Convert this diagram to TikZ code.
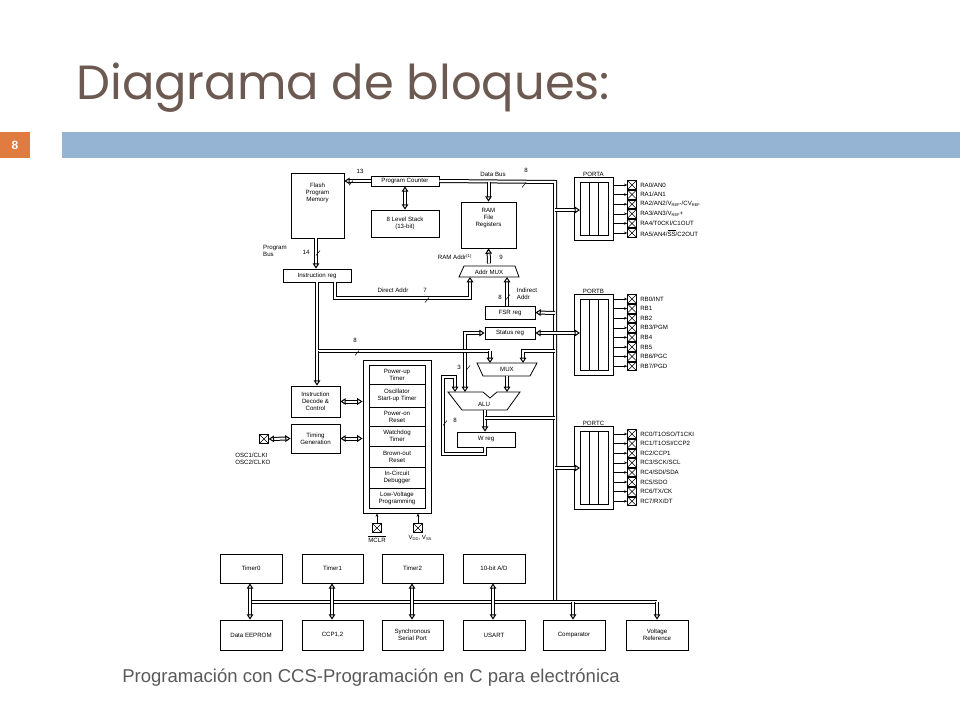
\documentclass[tikz,border=0pt]{standalone}
\usepackage{fontspec}
\setmainfont{Liberation Sans}
\newfontfamily\titlefont{Poppins}
\usetikzlibrary{arrows.meta}
\definecolor{titlec}{RGB}{108,90,82}
\definecolor{barblue}{RGB}{149,179,210}
\definecolor{barorange}{RGB}{224,124,64}
\newcommand\blk[6]{\node[box, minimum width={(#4-#2)*0.75pt}, minimum height={(#5-#3)*0.75pt}] (#1) at ({(#2+#4)/2},{(#3+#5)/2}) {#6};}
\newcommand\sbs[1]{\raisebox{-0.3ex}{\fontsize{3}{3}\selectfont #1}}
\begin{document}
\begin{tikzpicture}[x=0.75pt,y=-0.75pt,
 box/.style={draw,line width=0.6pt,inner sep=0pt,align=center,font=\fontsize{4.6}{5.2}\selectfont},
 lbl/.style={inner sep=0pt,font=\fontsize{4.6}{5.2}\selectfont,align=center},
 bus/.style={double,double distance=1.5pt,line width=0.75pt},
 busa/.style={bus,-{Triangle[open,length=4pt,width=5pt]}},
 busaa/.style={bus,{Triangle[open,length=4pt,width=5pt]}-{Triangle[open,length=4pt,width=5pt]}},
 pin/.style={line width=0.4pt,-{Stealth[length=2.5pt,width=2pt]}},
 xb/.style={draw,line width=0.5pt,minimum size=6.5pt,inner sep=0pt,path picture={\draw[line width=0.4pt] (path picture bounding box.south west)--(path picture bounding box.north east) (path picture bounding box.north west)--(path picture bounding box.south east);}},
 trap/.style={draw,line width=0.6pt,fill=white},
]
\useasboundingbox (0,0) rectangle (960,720);
% header
\node[anchor=base west,inner sep=0pt,font=\titlefont\fontsize{36}{36}\selectfont,text=titlec] (title) at (76,100) {Diagrama de bloques:};
\fill[barorange] (0,132) rectangle (30,158);
\node[font=\bfseries\fontsize{9}{9}\selectfont,text=white] (pnum) at (15,145) {8};
\fill[barblue] (62,132) rectangle (960,158);
\node[anchor=base west,inner sep=0pt,font=\fontsize{13.9}{14}\selectfont,text=black!65] (foot) at (122,682) {Programación con CCS-Programación en C para electrónica};

% main blocks
\blk{flash}{291}{173}{344}{238}{Flash\\Program\\Memory\\[14pt]}
\blk{pc}{371}{176}{439}{186}{Program Counter}
\blk{stack}{371}{210}{439}{237}{8 Level Stack\\(13-bit)}
\blk{ram}{461}{202}{516}{248}{RAM\\File\\Registers\\[6pt]}
\blk{ir}{283}{269}{351}{282}{Instruction reg}
\blk{fsr}{485}{306}{535}{319}{FSR reg}
\blk{status}{485}{327}{535}{339}{Status reg}
\blk{wreg}{457}{432}{515}{447}{W reg}
\blk{idc}{291}{386}{340}{417}{Instruction\\Decode \&\\Control}
\blk{tg}{291}{424}{340}{453}{Timing\\Generation}

% Addr MUX
\draw[trap] (459,277) -- (464,266) -- (515,266) -- (519,277) -- cycle;
\node[lbl] (amux) at (489,272) {Addr MUX};
% MUX
\draw[trap] (477,363) -- (537,363) -- (530,376) -- (483,376) -- cycle;
\node[lbl] (mux) at (507,369) {MUX};
% ALU
\draw[trap] (448,392) -- (483,392) -- (490,398) -- (497,392) -- (520,392) -- (507,410) -- (462,410) -- cycle;
\node[lbl] (alu) at (484,404) {ALU};
\coordinate (aluL) at (455,392);
\coordinate (aluR) at (507,392);
\coordinate (aluO) at (485,410);

% power block
\node[draw,line width=0.7pt,minimum width={68*0.75pt},minimum height={153*0.75pt},inner sep=0pt] (pwr) at (397,436.5) {};
\blk{p1}{369}{365}{425}{384}{Power-up\\Timer}
\blk{p2}{369}{384}{425}{407}{Oscillator\\Start-up Timer}
\blk{p3}{369}{407}{425}{426}{Power-on\\Reset}
\blk{p4}{369}{426}{425}{446}{Watchdog\\Timer}
\blk{p5}{369}{446}{425}{467}{Brown-out\\Reset}
\blk{p6}{369}{467}{425}{488}{In-Circuit\\Debugger}
\blk{p7}{369}{488}{425}{508}{Low-Voltage\\Programming}

% OSC / MCLR / VDD
\node[xb] (osc) at (264,439) {};
\node[lbl,anchor=north west,align=left] (osclbl) at (235,453) {OSC1/CLKI\\OSC2/CLKO};
\node[xb] (mclr) at (377,528) {};
\node[lbl,anchor=north] (mclrlbl) at (377,535) {$\overline{\mbox{MCLR}}$};
\node[xb] (vdd) at (418,528) {};
\node[lbl,anchor=north] (vddlbl) at (420,535) {V\sbs{DD}, V\sbs{SS}};
\draw[pin] (mclr.north) -- (mclr.north |- pwr.south);
\draw[pin] (vdd.north) -- (vdd.north |- pwr.south);

% buses
\coordinate (bt) at (555,182);
\coordinate (bb) at (555,602);
\coordinate (hl) at (250,602);
\coordinate (hr) at (657,602);
\draw[bus] (pc.east) -- (bt) -- (bb);
\draw[bus] (hl) -- (hr);
\draw[busa] (pc.west) -- (flash.east |- pc.west);
\draw[busaa] (pc.south) -- (stack.north);
\draw[busa] (ram.north |- bt) -- (ram.north);
\draw[busa] (flash.south -| 316,0) -- (ir.north -| 316,0);
\draw[busa] (amux.north) ++(0,-6) -- (ram.south);
\draw[busa] (ir.south -| 335,0) -- (335,298) -- (470,298) -- (470,277);
\draw[busa] (fsr.north -| 507,0) -- (507,277);
\draw[busa] (555,313) -- (fsr.east);
\draw[busa] (555,333) -- (status.east);
\draw[busaa] (465,392) -- (465,333) -- (status.west);
\draw[bus] (ir.south -| 317,0) -- (317,351) -- (490,351);
\draw[busa] (490,351) -- (490,363);
\draw[busa] (317,351) -- (idc.north -| 317,0);
\draw[busa] (555,351) -- (523,351) -- (523,363);
\draw[busa] (507,376) -- (aluR);
\draw[busa] (wreg.south -| 485,0) -- (485,454) -- (443,454) -- (443,377) -- (455,377) -- (aluL);
\draw[busa] (aluO) -- (wreg.north -| 485,0);
\draw[bus] (485,418) -- (555,418);
\draw[busaa] (idc.east) -- (idc.east -| pwr.west);
\draw[busaa] (tg.east) -- (tg.east -| pwr.west);
\draw[busaa] (tg.west) -- (osc.east);

% labels
\node[lbl] (l13) at (360,171) {13};
\node[lbl] (ldb) at (493,174) {Data Bus};
\node[lbl] (l8a) at (526,170) {8};
\node[lbl,align=left] (lpb) at (275,251) {Program\\Bus};
\node[lbl] (l14) at (306,252) {14};
\node[lbl] (lra) at (455,257) {RAM Addr\textsuperscript{(1)}};
\node[lbl] (l9) at (501,257) {9};
\node[lbl] (lda) at (393,290) {Direct Addr};
\node[lbl] (l7) at (425,290) {7};
\node[lbl] (l8b) at (500,297) {8};
\node[lbl,align=left] (lia) at (527,294) {Indirect\\Addr};
\node[lbl] (l8c) at (355,340) {8};
\node[lbl] (l3) at (459,367) {3};
\node[lbl] (l8d) at (455,420) {8};
\foreach \p in {(351,183),(524,185),(318,253),(427,300),(508,297),(357,353),(468,368),(445,423)}
  \draw[line width=0.4pt] \p ++(-2,2.5) -- ++(4,-5);

% ports
\foreach \nm/\lab/\ya/\yb/\ymid in {porta/PORTA/177/240/210, portb/PORTB/294/375/333, portc/PORTC/426/509/468}{
  \node[draw,line width=0.6pt,minimum width={39*0.75pt},minimum height={(\yb-\ya)*0.75pt},inner sep=0pt] (\nm) at (593.5,{(\ya+\yb)/2}) {};
  \node[lbl,anchor=south] (\nm l) at (\nm.north) {\lab};
  \draw[line width=0.5pt] (580,\ya+5) rectangle (608,\yb-5);
  \draw[line width=0.5pt] (589,\ya+5) -- (589,\yb-5) (598,\ya+5) -- (598,\yb-5);
  \draw[busa] (555,\ymid) -- (580,\ymid);
}
\foreach \t [count=\k] in {{RA0/AN0},{RA1/AN1},{RA2/AN2/V\sbs{REF}-/CV\sbs{REF}},{RA3/AN3/V\sbs{REF}+},{RA4/T0CKI/C1OUT},{RA5/AN4/$\overline{\mbox{SS}}$/C2OUT}}{
  \node[xb] (pa\k) at (632,{185+(\k-1)*9.6}) {};
  \draw[pin] (porta.east |- pa\k) -- (pa\k.west);
  \node[lbl,anchor=west,xshift=2.5pt] (pal\k) at (pa\k.east) {\t};
}
\foreach \t [count=\k] in {{RB0/INT},{RB1},{RB2},{RB3/PGM},{RB4},{RB5},{RB6/PGC},{RB7/PGD}}{
  \node[xb] (pb\k) at (632,{299+(\k-1)*9.6}) {};
  \draw[pin] (portb.east |- pb\k) -- (pb\k.west);
  \node[lbl,anchor=west,xshift=2.5pt] (pbl\k) at (pb\k.east) {\t};
}
\foreach \t [count=\k] in {{RC0/T1OSO/T1CKI},{RC1/T1OSI/CCP2},{RC2/CCP1},{RC3/SCK/SCL},{RC4/SDI/SDA},{RC5/SDO},{RC6/TX/CK},{RC7/RX/DT}}{
  \node[xb] (pc\k) at (632,{434+(\k-1)*9.6}) {};
  \draw[pin] (portc.east |- pc\k) -- (pc\k.west);
  \node[lbl,anchor=west,xshift=2.5pt] (pcl\k) at (pc\k.east) {\t};
}

% peripherals
\blk{t0}{220}{554}{282}{583}{Timer0}
\blk{t1}{302}{554}{363}{583}{Timer1}
\blk{t2}{382}{554}{443}{583}{Timer2}
\blk{ad}{463}{554}{525}{583}{10-bit A/D}
\blk{ee}{220}{620}{282}{650}{Data EEPROM}
\blk{ccp}{302}{620}{363}{650}{CCP1,2}
\blk{ssp}{382}{620}{443}{650}{Synchronous\\Serial Port}
\blk{us}{463}{620}{525}{650}{USART}
\blk{cmp}{543}{620}{605}{650}{Comparator}
\blk{vr}{626}{620}{688}{650}{Voltage\\Reference}
\foreach \b/\x in {t0/250,t1/332,t2/412,ad/493}
  \draw[busa] (\x,602) -- (\b.south -| \x,0);
\foreach \b/\x in {ee/250,ccp/332,ssp/412,us/493,cmp/573,vr/657}
  \draw[busa] (\x,602) -- (\b.north -| \x,0);
\end{tikzpicture}
\end{document}
